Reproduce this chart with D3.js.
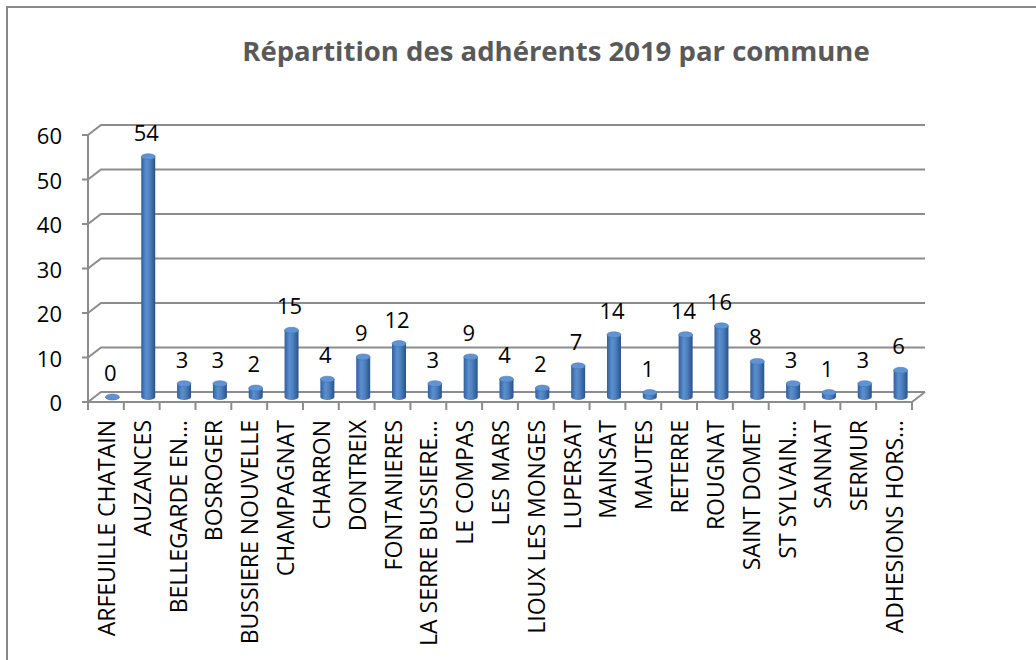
<!DOCTYPE html>
<html>
<head>
<meta charset="utf-8">
<script src="https://cdn.jsdelivr.net/npm/d3@7"></script>
<style>
  body { margin: 0; background: #fff; }
  text { font-family: 'Open Sans', sans-serif; }
</style>
</head>
<body>
<div id="chart"></div>
<script>
// data
const communes = [
  'ARFEUILLE CHATAIN', 'AUZANCES', 'BELLEGARDE EN…', 'BOSROGER', 'BUSSIERE NOUVELLE',
  'CHAMPAGNAT', 'CHARRON', 'DONTREIX', 'FONTANIERES', 'LA SERRE BUSSIERE…',
  'LE COMPAS', 'LES MARS', 'LIOUX LES MONGES', 'LUPERSAT', 'MAINSAT', 'MAUTES',
  'RETERRE', 'ROUGNAT', 'SAINT DOMET', 'ST SYLVAIN…', 'SANNAT', 'SERMUR', 'ADHESIONS HORS…',
];
const adherents = [0, 54, 3, 3, 2, 15, 4, 9, 12, 3, 9, 4, 2, 7, 14, 1, 14, 16, 8, 3, 1, 3, 6];
const yTicks = [0, 10, 20, 30, 40, 50, 60];
const title = 'Répartition des adhérents 2019 par commune';

const width = 1036;
const height = 660;
const plot = { l: 88, r: 912, t: 135, b: 402 };
const depth = { dx: 13, dy: -10 };

const svg = d3
  .select('#chart')
  .append('svg')
  .attr('width', width)
  .attr('height', height);

// chart frame
svg
  .append('rect')
  .attr('x', 7)
  .attr('y', 7)
  .attr('width', 1060)
  .attr('height', 700)
  .attr('fill', 'none')
  .attr('stroke', '#888')
  .attr('stroke-width', 2);

svg
  .append('text')
  .attr('x', 556)
  .attr('y', 61)
  .attr('text-anchor', 'middle')
  .attr('fill', '#595959')
  .style('font-size', '27.5px')
  .style('font-weight', 'bold')
  .text(title);

const xScale = d3.scaleBand().domain(communes).range([plot.l, plot.r]);
const yScale = d3.scaleLinear().domain([0, 60]).range([plot.b, plot.t]);

// back wall gridlines + side wall diagonals
const grid = svg.append('g').attr('stroke', '#8c8c8c').attr('stroke-width', 2).attr('fill', 'none');
yTicks.forEach((v) => {
  const y = yScale(v);
  grid
    .append('path')
    .attr('d', `M${plot.l},${y} L${plot.l + depth.dx},${y + depth.dy} L${plot.r + depth.dx},${y + depth.dy}`);
  // left tick
  grid.append('line').attr('x1', plot.l - 6).attr('x2', plot.l).attr('y1', y).attr('y2', y);
});
// floor front edge + right edge
grid
  .append('path')
  .attr('d', `M${plot.l},${plot.b} L${plot.r},${plot.b} L${plot.r + depth.dx},${plot.b + depth.dy}`);
// vertical axis
grid.append('line').attr('x1', plot.l).attr('x2', plot.l).attr('y1', plot.t).attr('y2', plot.b);
// bottom ticks
communes.concat(['__end']).forEach((c, i) => {
  const x = plot.l + i * xScale.step();
  grid.append('line').attr('x1', x).attr('x2', x).attr('y1', plot.b).attr('y2', plot.b + 8);
});

// y tick labels
svg
  .append('g')
  .selectAll('text')
  .data(yTicks)
  .join('text')
  .attr('x', 62)
  .attr('y', (d) => yScale(d) + 9)
  .attr('text-anchor', 'end')
  .style('font-size', '22px')
  .text((d) => d);

// cylinder gradient
const defs = svg.append('defs');
const grad = defs.append('linearGradient').attr('id', 'cyl').attr('x1', 0).attr('x2', 1).attr('y1', 0).attr('y2', 0);
grad.append('stop').attr('offset', '0%').attr('stop-color', '#2f5f9e');
grad.append('stop').attr('offset', '35%').attr('stop-color', '#5b8fd0');
grad.append('stop').attr('offset', '60%').attr('stop-color', '#4f81bd');
grad.append('stop').attr('offset', '100%').attr('stop-color', '#28528a');

// bars sit in the middle of the depth
const barDx = depth.dx / 2;
const barDy = depth.dy / 2;
const bw = 14;
const ry = 3;

const bars = svg.append('g');
communes.forEach((c, i) => {
  const v = adherents[i];
  const cx = xScale(c) + xScale.bandwidth() / 2 + barDx;
  const yb = yScale(0) + barDy;
  const yt = yScale(v) + barDy;
  const x0 = cx - bw / 2;
  const x1 = cx + bw / 2;
  bars
    .append('path')
    .attr('d', `M${x0},${yt} L${x0},${yb} A${bw / 2},${ry} 0 0 0 ${x1},${yb} L${x1},${yt} Z`)
    .attr('fill', 'url(#cyl)');
  bars
    .append('ellipse')
    .attr('cx', cx)
    .attr('cy', yt)
    .attr('rx', bw / 2)
    .attr('ry', ry)
    .attr('fill', '#5f93d3')
    .attr('stroke', '#3d6eac')
    .attr('stroke-width', 0.5);

  // value label
  svg
    .append('text')
    .attr('x', cx - 2)
    .attr('y', yt - 16)
    .attr('text-anchor', 'middle')
    .style('font-size', '22px')
    .text(v);
});

// category labels
svg
  .append('g')
  .selectAll('text')
  .data(communes)
  .join('text')
  .attr('transform', (d) => `translate(${xScale(d) + xScale.bandwidth() / 2 + 9}, 420) rotate(-90)`)
  .attr('text-anchor', 'end')
  .style('font-size', '23px')
  .text((d) => d);
</script>
</body>
</html>
